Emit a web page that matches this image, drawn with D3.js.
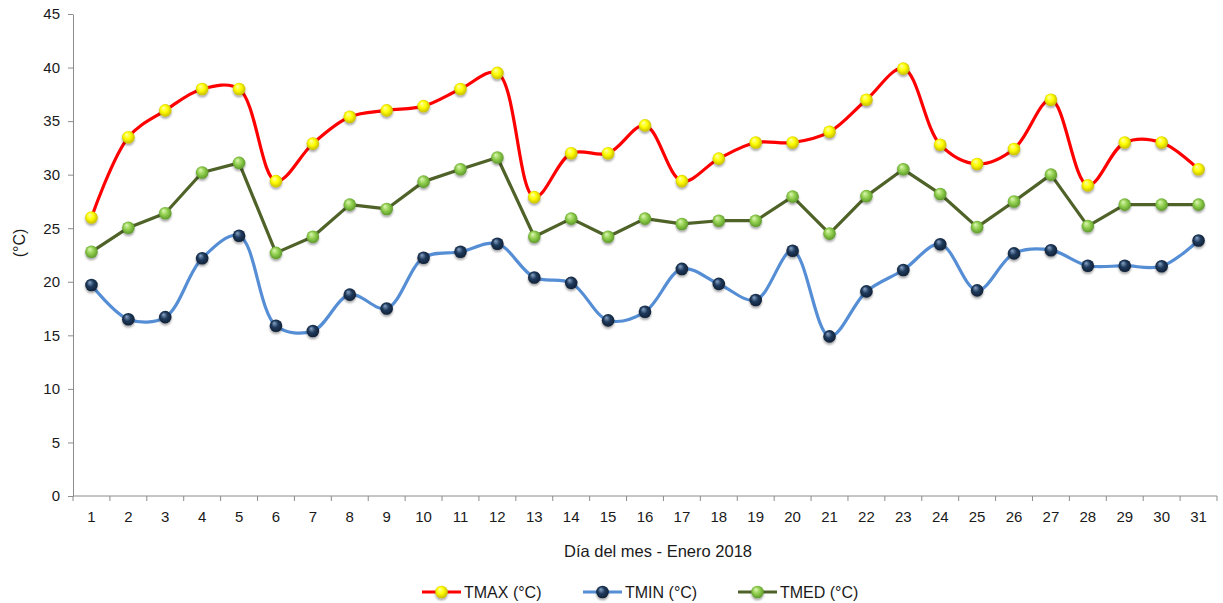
<!DOCTYPE html>
<html>
<head>
<meta charset="utf-8">
<script src="https://cdn.jsdelivr.net/npm/d3@7"></script>
<style>
  body { margin: 0; background: #fff; }
  svg { display: block; font-family: "Liberation Sans", Arial, sans-serif; }
</style>
</head>
<body>
<div id="chart"></div>
<script>
/* Daily temperatures, January 2018 */
const days = d3.range(1, 32);
const tmax = [26, 33.5, 36, 38, 38, 29.4, 32.9, 35.4, 36, 36.4, 38, 39.5, 27.9, 32, 32, 34.6,
  29.4, 31.5, 33, 33, 34, 37, 39.9, 32.8, 31, 32.4, 37, 29, 33, 33, 30.5];
const tmin = [19.7, 16.5, 16.7, 22.2, 24.3, 15.9, 15.4, 18.8, 17.5, 22.25, 22.8, 23.55, 20.4, 19.9,
  16.4, 17.2, 21.2, 19.8, 18.3, 22.9, 14.9, 19.1, 21.1, 23.5, 19.2, 22.65, 22.95, 21.5, 21.5, 21.45, 23.85];
const tmed = [22.8, 25.05, 26.4, 30.2, 31.1, 22.7, 24.2, 27.2, 26.8, 29.35, 30.5, 31.6, 24.2, 25.9,
  24.2, 25.9, 25.4, 25.7, 25.7, 27.95, 24.5, 28, 30.5, 28.2, 25.1, 27.5, 30, 25.2, 27.2, 27.2, 27.2];
const yTicks = d3.range(0, 50, 5);

const series = [
  { name: "TMAX (°C)", values: tmax, line: "#ff0000", light: "#ffffb0", base: "#ffff00", dark: "#b8a800", smooth: true },
  { name: "TMIN (°C)", values: tmin, line: "#558ed5", light: "#8aa6c8", base: "#1f3a5c", dark: "#0c1a2c", smooth: true },
  { name: "TMED (°C)", values: tmed, line: "#4f6228", light: "#e0f7b8", base: "#92d050", dark: "#4f8a20", smooth: false }
];

const width = 1223, height = 603;
const margin = { top: 14, right: 6, bottom: 107, left: 73 };

const svg = d3.select("#chart").append("svg")
  .attr("width", width)
  .attr("height", height);

const defs = svg.append("defs");

/* sphere gradients */
series.forEach((s, i) => {
  const g = defs.append("radialGradient")
    .attr("id", "ball" + i)
    .attr("cx", "50%").attr("cy", "50%").attr("r", "60%")
    .attr("fx", "35%").attr("fy", "28%");
  g.append("stop").attr("offset", "0%").attr("stop-color", s.light);
  g.append("stop").attr("offset", "45%").attr("stop-color", s.base);
  g.append("stop").attr("offset", "100%").attr("stop-color", s.dark);
});

const shadow = defs.append("filter").attr("id", "shadow")
  .attr("x", "-50%").attr("y", "-50%").attr("width", "200%").attr("height", "200%");
shadow.append("feDropShadow")
  .attr("dx", 0).attr("dy", 2).attr("stdDeviation", 1.3)
  .attr("flood-color", "#000").attr("flood-opacity", 0.35);

/* scales */
const x = d3.scaleBand()
  .domain(days)
  .range([margin.left, width - margin.right]);

const y = d3.scaleLinear()
  .domain([0, 45])
  .range([height - margin.bottom, margin.top]);

const cx = d => x(d) + x.bandwidth() / 2;

/* y axis */
const yAxis = svg.append("g")
  .attr("transform", `translate(${margin.left},0)`)
  .call(d3.axisLeft(y).tickValues(yTicks).tickSize(5).tickPadding(8).tickSizeOuter(0));
yAxis.selectAll("line, path").attr("stroke", "#8c8c8c");
yAxis.selectAll("text").attr("font-size", "15px").attr("fill", "#1a1a1a")
  .attr("font-family", "'Liberation Sans', Arial, sans-serif");

/* x axis: ticks between categories */
const xg = svg.append("g")
  .attr("transform", `translate(0,${height - margin.bottom})`);
xg.append("line")
  .attr("x1", margin.left).attr("x2", width - margin.right)
  .attr("stroke", "#8c8c8c");
xg.selectAll("line.tk")
  .data(days.concat([32]))
  .join("line")
    .attr("class", "tk")
    .attr("x1", d => d === 32 ? x.range()[1] : x(d))
    .attr("x2", d => d === 32 ? x.range()[1] : x(d))
    .attr("y1", 0).attr("y2", 5)
    .attr("stroke", "#8c8c8c");
xg.selectAll("text")
  .data(days)
  .join("text")
    .attr("x", d => cx(d))
    .attr("y", 26)
    .attr("text-anchor", "middle")
    .attr("font-size", "15px")
    .attr("fill", "#1a1a1a")
    .text(d => d);

/* axis titles */
svg.append("text")
  .attr("x", 658)
  .attr("y", 557)
  .attr("text-anchor", "middle")
  .attr("font-size", "16.5px")
  .attr("fill", "#1a1a1a")
  .text("Día del mes - Enero 2018");

svg.append("text")
  .attr("transform", "translate(25,243) rotate(-90)")
  .attr("text-anchor", "middle")
  .attr("font-size", "16px")
  .attr("fill", "#1a1a1a")
  .text("(°C)");

/* lines */
const plot = svg.append("g");
series.forEach((s, i) => {
  const line = d3.line()
    .x((d, j) => cx(days[j]))
    .y(d => y(d))
    .curve(s.smooth ? d3.curveCatmullRom.alpha(0.5) : d3.curveLinear);
  plot.append("path")
    .datum(s.values)
    .attr("fill", "none")
    .attr("stroke", s.line)
    .attr("stroke-width", 3.2)
    .attr("stroke-linejoin", "round")
    .attr("d", line);
});

/* markers */
series.forEach((s, i) => {
  plot.append("g")
    .selectAll("circle")
    .data(s.values)
    .join("circle")
      .attr("cx", (d, j) => cx(days[j]))
      .attr("cy", d => y(d))
      .attr("r", 6.3)
      .attr("fill", `url(#ball${i})`)
      .attr("filter", "url(#shadow)");
});

/* legend */
const legendX = [422, 583, 738];
const legend = svg.append("g");
series.forEach((s, i) => {
  const g = legend.append("g").attr("transform", `translate(${legendX[i]},592)`);
  g.append("line")
    .attr("x1", 0).attr("x2", 39)
    .attr("stroke", s.line).attr("stroke-width", 3.2);
  g.append("circle")
    .attr("cx", 19.5).attr("r", 6.3)
    .attr("fill", `url(#ball${i})`)
    .attr("filter", "url(#shadow)");
  g.append("text")
    .attr("x", 42)
    .attr("dy", "0.35em")
    .attr("font-size", "16px")
    .attr("fill", "#1a1a1a")
    .text(s.name);
});
</script>
</body>
</html>
